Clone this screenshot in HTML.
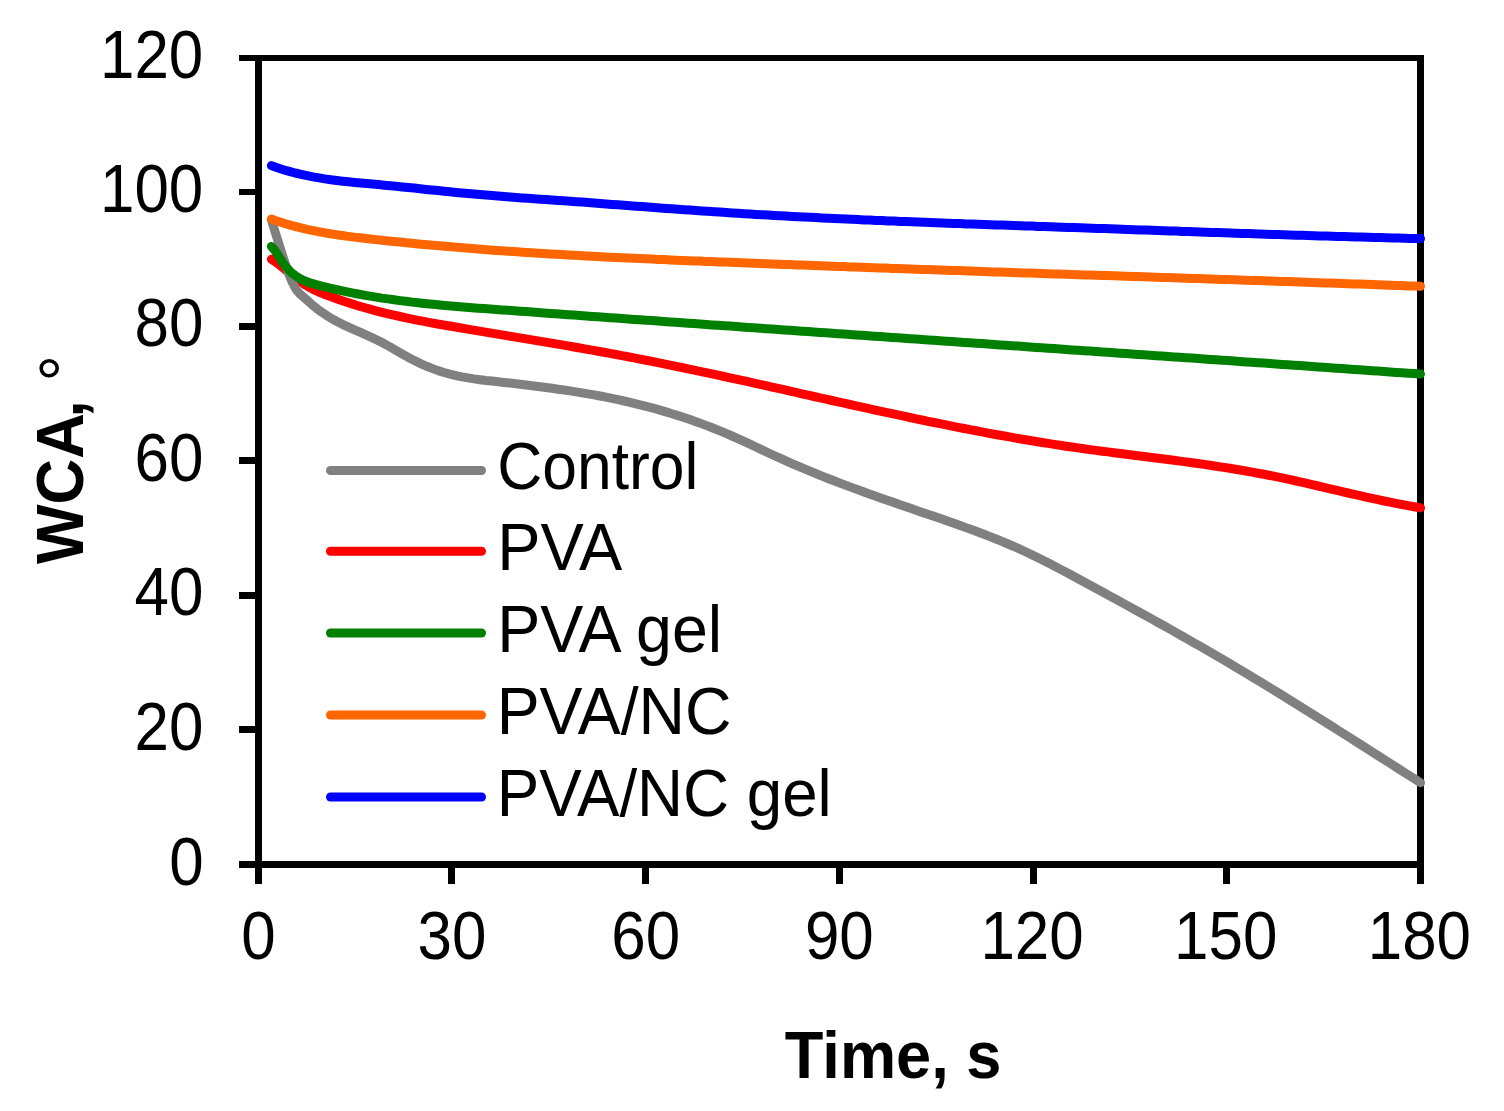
<!DOCTYPE html><html><head><meta charset="utf-8"><title>WCA vs Time</title><style>html,body{margin:0;padding:0;background:#fff;width:1504px;height:1111px;overflow:hidden}svg{display:block}text{font-family:"Liberation Sans",Arial,sans-serif;fill:#000}</style></head><body>
<svg width="1504" height="1111" viewBox="0 0 1504 1111">
<rect width="1504" height="1111" fill="#fff"/>
<rect x="239" y="55" width="1185" height="6" fill="#000"/>
<rect x="239" y="861" width="1185" height="7" fill="#000"/>
<rect x="255" y="55" width="7" height="829" fill="#000"/>
<rect x="1417" y="55" width="7" height="829" fill="#000"/>
<rect x="239" y="726" width="16" height="7" fill="#000"/>
<rect x="239" y="592" width="16" height="7" fill="#000"/>
<rect x="239" y="457" width="16" height="7" fill="#000"/>
<rect x="239" y="323" width="16" height="7" fill="#000"/>
<rect x="239" y="189" width="16" height="6" fill="#000"/>
<rect x="448" y="868" width="7" height="16" fill="#000"/>
<rect x="642" y="868" width="7" height="16" fill="#000"/>
<rect x="836" y="868" width="7" height="16" fill="#000"/>
<rect x="1030" y="868" width="7" height="16" fill="#000"/>
<rect x="1223" y="868" width="7" height="16" fill="#000"/>
<path d="M271.4,259.2 L274.1,261.0 L276.9,262.9 L279.6,265.0 L282.4,267.2 L285.1,269.4 L287.9,271.7 L290.6,273.9 L293.4,276.2 L296.1,278.4 L298.8,280.5 L301.6,282.4 L304.3,284.3 L307.1,286.0 L309.8,287.6 L312.6,289.1 L315.3,290.4 L318.0,291.6 L320.8,292.8 L323.5,293.9 L326.3,294.9 L329.0,296.0 L331.8,297.0 L334.5,298.0 L337.3,299.0 L340.0,300.0 L346.0,302.0 L352.0,303.9 L358.0,305.8 L364.0,307.5 L370.0,309.2 L376.0,310.8 L382.0,312.3 L388.0,313.8 L394.0,315.2 L400.0,316.5 L406.0,317.8 L412.0,319.1 L418.0,320.3 L424.0,321.4 L430.0,322.6 L436.0,323.7 L442.0,324.7 L448.0,325.8 L454.0,326.8 L460.0,327.8 L466.0,328.9 L472.0,329.9 L478.0,330.9 L484.0,331.9 L490.0,332.9 L496.0,333.9 L502.0,334.9 L508.0,335.9 L514.0,336.9 L520.0,337.9 L526.0,338.9 L532.0,339.9 L538.0,340.9 L544.0,341.9 L550.0,342.9 L556.0,343.9 L562.0,344.9 L568.0,345.9 L574.0,347.0 L580.0,348.0 L586.0,349.1 L592.0,350.1 L598.0,351.2 L604.0,352.3 L610.0,353.4 L616.0,354.5 L622.0,355.6 L628.0,356.7 L634.0,357.9 L640.0,359.1 L646.0,360.2 L652.0,361.4 L658.0,362.6 L664.0,363.8 L670.0,365.1 L676.0,366.3 L682.0,367.5 L688.0,368.8 L694.0,370.1 L700.0,371.3 L706.0,372.6 L712.0,373.9 L718.0,375.2 L724.0,376.5 L730.0,377.8 L736.0,379.1 L742.0,380.4 L748.0,381.7 L754.0,383.1 L760.0,384.4 L766.0,385.7 L772.0,387.1 L778.0,388.4 L784.0,389.7 L790.0,391.1 L796.0,392.4 L802.0,393.8 L808.0,395.1 L814.0,396.5 L820.0,397.8 L826.0,399.1 L832.0,400.5 L838.0,401.8 L844.0,403.1 L850.0,404.5 L856.0,405.8 L862.0,407.1 L868.0,408.4 L874.0,409.8 L880.0,411.1 L886.0,412.4 L892.0,413.7 L898.0,414.9 L904.0,416.2 L910.0,417.5 L916.0,418.8 L922.0,420.0 L928.0,421.3 L934.0,422.5 L940.0,423.7 L946.0,424.9 L952.0,426.1 L958.0,427.3 L964.0,428.5 L970.0,429.7 L976.0,430.8 L982.0,431.9 L988.0,433.1 L994.0,434.2 L1000.0,435.3 L1006.0,436.3 L1012.0,437.4 L1018.0,438.5 L1024.0,439.5 L1030.0,440.5 L1036.0,441.5 L1042.0,442.5 L1048.0,443.4 L1054.0,444.4 L1060.0,445.3 L1066.0,446.2 L1072.0,447.0 L1078.0,447.9 L1084.0,448.7 L1090.0,449.6 L1096.0,450.4 L1102.0,451.2 L1108.0,451.9 L1114.0,452.7 L1120.0,453.5 L1126.0,454.2 L1132.0,455.0 L1138.0,455.7 L1144.0,456.5 L1150.0,457.2 L1156.0,458.0 L1162.0,458.8 L1168.0,459.5 L1174.0,460.3 L1180.0,461.1 L1186.0,461.9 L1192.0,462.7 L1198.0,463.5 L1204.0,464.4 L1210.0,465.3 L1216.0,466.2 L1222.0,467.1 L1228.0,468.0 L1234.0,469.0 L1240.0,470.0 L1246.0,471.0 L1252.0,472.1 L1258.0,473.2 L1264.0,474.3 L1270.0,475.5 L1276.0,476.7 L1282.0,477.9 L1288.0,479.2 L1294.0,480.5 L1300.0,481.9 L1306.0,483.2 L1312.0,484.6 L1318.0,486.0 L1324.0,487.4 L1330.0,488.8 L1336.0,490.2 L1342.0,491.6 L1348.0,493.0 L1354.0,494.3 L1360.0,495.7 L1366.0,497.1 L1372.0,498.4 L1378.0,499.7 L1384.0,501.0 L1390.0,502.2 L1396.0,503.4 L1402.0,504.5 L1408.0,505.6 L1414.0,506.7 L1420.0,507.7 L1420.5,507.8" fill="none" stroke="#FF0000" stroke-width="9" stroke-linecap="round" stroke-linejoin="round"/>
<path d="M271.4,219.5 L274.0,228.4 L276.6,236.7 L279.2,244.8 L281.7,252.8 L284.3,260.8 L286.9,268.6 L289.5,275.7 L292.1,281.9 L294.7,287.1 L297.2,291.0 L299.8,293.8 L302.4,296.1 L305.0,298.4 L307.6,300.7 L310.2,303.0 L312.7,305.2 L315.3,307.3 L317.9,309.4 L320.5,311.3 L323.1,313.1 L325.7,314.8 L328.2,316.5 L330.8,318.1 L333.4,319.5 L336.0,321.0 L342.0,324.1 L348.0,326.9 L354.0,329.6 L360.0,332.2 L366.0,334.9 L372.0,337.6 L378.0,340.5 L384.0,343.6 L390.0,346.9 L396.0,350.4 L402.0,353.8 L408.0,357.2 L414.0,360.4 L420.0,363.3 L426.0,366.0 L432.0,368.4 L438.0,370.6 L444.0,372.5 L450.0,374.2 L456.0,375.6 L462.0,376.9 L468.0,377.9 L474.0,378.9 L480.0,379.7 L486.0,380.5 L492.0,381.1 L498.0,381.8 L504.0,382.5 L510.0,383.1 L516.0,383.8 L522.0,384.5 L528.0,385.2 L534.0,386.0 L540.0,386.7 L546.0,387.5 L552.0,388.3 L558.0,389.2 L564.0,390.0 L570.0,390.9 L576.0,391.9 L582.0,392.9 L588.0,393.9 L594.0,394.9 L600.0,396.0 L606.0,397.2 L612.0,398.4 L618.0,399.7 L624.0,401.0 L630.0,402.3 L636.0,403.8 L642.0,405.3 L648.0,406.8 L654.0,408.4 L660.0,410.1 L666.0,411.9 L672.0,413.7 L678.0,415.6 L684.0,417.5 L690.0,419.6 L696.0,421.7 L702.0,423.9 L708.0,426.1 L714.0,428.5 L720.0,430.9 L726.0,433.4 L732.0,436.0 L738.0,438.7 L744.0,441.4 L750.0,444.2 L756.0,447.0 L762.0,449.8 L768.0,452.7 L774.0,455.5 L780.0,458.2 L786.0,460.9 L792.0,463.6 L798.0,466.2 L804.0,468.7 L810.0,471.2 L816.0,473.7 L822.0,476.1 L828.0,478.5 L834.0,480.8 L840.0,483.1 L846.0,485.4 L852.0,487.6 L858.0,489.8 L864.0,492.0 L870.0,494.2 L876.0,496.3 L882.0,498.4 L888.0,500.5 L894.0,502.6 L900.0,504.7 L906.0,506.8 L912.0,508.8 L918.0,510.9 L924.0,512.9 L930.0,515.0 L936.0,517.1 L942.0,519.1 L948.0,521.2 L954.0,523.3 L960.0,525.4 L966.0,527.6 L972.0,529.8 L978.0,532.0 L984.0,534.3 L990.0,536.6 L996.0,539.0 L1002.0,541.4 L1008.0,544.0 L1014.0,546.5 L1020.0,549.2 L1026.0,552.0 L1032.0,554.8 L1038.0,557.7 L1044.0,560.7 L1050.0,563.8 L1056.0,566.9 L1062.0,570.1 L1068.0,573.3 L1074.0,576.5 L1080.0,579.8 L1086.0,583.0 L1092.0,586.3 L1098.0,589.5 L1104.0,592.8 L1110.0,596.1 L1116.0,599.3 L1122.0,602.6 L1128.0,605.9 L1134.0,609.2 L1140.0,612.5 L1146.0,615.8 L1152.0,619.1 L1158.0,622.5 L1164.0,625.8 L1170.0,629.2 L1176.0,632.6 L1182.0,636.0 L1188.0,639.4 L1194.0,642.8 L1200.0,646.2 L1206.0,649.7 L1212.0,653.2 L1218.0,656.7 L1224.0,660.2 L1230.0,663.7 L1236.0,667.3 L1242.0,670.9 L1248.0,674.4 L1254.0,678.1 L1260.0,681.7 L1266.0,685.3 L1272.0,689.0 L1278.0,692.7 L1284.0,696.4 L1290.0,700.1 L1296.0,703.8 L1302.0,707.6 L1308.0,711.3 L1314.0,715.1 L1320.0,718.8 L1326.0,722.6 L1332.0,726.4 L1338.0,730.2 L1344.0,734.0 L1350.0,737.8 L1356.0,741.6 L1362.0,745.4 L1368.0,749.3 L1374.0,753.1 L1380.0,756.9 L1386.0,760.7 L1392.0,764.6 L1398.0,768.4 L1404.0,772.2 L1410.0,776.0 L1416.0,779.8 L1420.5,782.7" fill="none" stroke="#808080" stroke-width="9" stroke-linecap="round" stroke-linejoin="round"/>
<path d="M271.4,246.4 L274.1,249.4 L276.9,253.3 L279.6,257.7 L282.4,262.0 L285.1,265.9 L287.9,269.1 L290.6,271.9 L293.4,274.2 L296.1,276.2 L298.8,277.9 L301.6,279.4 L304.3,280.7 L307.1,281.8 L309.8,282.8 L312.6,283.6 L315.3,284.4 L318.0,285.1 L320.8,285.8 L323.5,286.5 L326.3,287.2 L329.0,287.8 L331.8,288.5 L334.5,289.1 L337.3,289.7 L340.0,290.3 L346.0,291.6 L352.0,292.8 L358.0,294.0 L364.0,295.1 L370.0,296.1 L376.0,297.1 L382.0,298.1 L388.0,298.9 L394.0,299.8 L400.0,300.6 L406.0,301.3 L412.0,302.1 L418.0,302.8 L424.0,303.4 L430.0,304.0 L436.0,304.6 L442.0,305.2 L448.0,305.7 L454.0,306.2 L460.0,306.7 L466.0,307.2 L472.0,307.7 L478.0,308.2 L484.0,308.6 L490.0,309.0 L496.0,309.5 L502.0,309.9 L508.0,310.3 L514.0,310.8 L520.0,311.2 L526.0,311.6 L532.0,312.1 L538.0,312.5 L544.0,312.9 L550.0,313.4 L556.0,313.8 L562.0,314.2 L568.0,314.7 L574.0,315.1 L580.0,315.5 L586.0,315.9 L592.0,316.4 L598.0,316.8 L604.0,317.2 L610.0,317.7 L616.0,318.1 L622.0,318.5 L628.0,318.9 L634.0,319.4 L640.0,319.8 L646.0,320.2 L652.0,320.6 L658.0,321.1 L664.0,321.5 L670.0,321.9 L676.0,322.3 L682.0,322.8 L688.0,323.2 L694.0,323.6 L700.0,324.0 L706.0,324.5 L712.0,324.9 L718.0,325.3 L724.0,325.7 L730.0,326.1 L736.0,326.6 L742.0,327.0 L748.0,327.4 L754.0,327.8 L760.0,328.2 L766.0,328.7 L772.0,329.1 L778.0,329.5 L784.0,329.9 L790.0,330.3 L796.0,330.8 L802.0,331.2 L808.0,331.6 L814.0,332.0 L820.0,332.4 L826.0,332.8 L832.0,333.3 L838.0,333.7 L844.0,334.1 L850.0,334.5 L856.0,334.9 L862.0,335.3 L868.0,335.8 L874.0,336.2 L880.0,336.6 L886.0,337.0 L892.0,337.4 L898.0,337.8 L904.0,338.3 L910.0,338.7 L916.0,339.1 L922.0,339.5 L928.0,339.9 L934.0,340.3 L940.0,340.7 L946.0,341.2 L952.0,341.6 L958.0,342.0 L964.0,342.4 L970.0,342.8 L976.0,343.2 L982.0,343.6 L988.0,344.1 L994.0,344.5 L1000.0,344.9 L1006.0,345.3 L1012.0,345.7 L1018.0,346.1 L1024.0,346.5 L1030.0,347.0 L1036.0,347.4 L1042.0,347.8 L1048.0,348.2 L1054.0,348.6 L1060.0,349.0 L1066.0,349.4 L1072.0,349.9 L1078.0,350.3 L1084.0,350.7 L1090.0,351.1 L1096.0,351.5 L1102.0,351.9 L1108.0,352.3 L1114.0,352.8 L1120.0,353.2 L1126.0,353.6 L1132.0,354.0 L1138.0,354.4 L1144.0,354.8 L1150.0,355.2 L1156.0,355.7 L1162.0,356.1 L1168.0,356.5 L1174.0,356.9 L1180.0,357.3 L1186.0,357.7 L1192.0,358.1 L1198.0,358.6 L1204.0,359.0 L1210.0,359.4 L1216.0,359.8 L1222.0,360.2 L1228.0,360.6 L1234.0,361.1 L1240.0,361.5 L1246.0,361.9 L1252.0,362.3 L1258.0,362.7 L1264.0,363.1 L1270.0,363.6 L1276.0,364.0 L1282.0,364.4 L1288.0,364.8 L1294.0,365.2 L1300.0,365.6 L1306.0,366.1 L1312.0,366.5 L1318.0,366.9 L1324.0,367.3 L1330.0,367.7 L1336.0,368.2 L1342.0,368.6 L1348.0,369.0 L1354.0,369.4 L1360.0,369.8 L1366.0,370.3 L1372.0,370.7 L1378.0,371.1 L1384.0,371.5 L1390.0,372.0 L1396.0,372.4 L1402.0,372.8 L1408.0,373.2 L1414.0,373.6 L1420.0,374.1 L1420.5,374.1" fill="none" stroke="#008000" stroke-width="9" stroke-linecap="round" stroke-linejoin="round"/>
<path d="M271.4,219.1 L275.3,220.5 L279.3,221.8 L283.2,223.0 L287.2,224.2 L291.1,225.4 L295.1,226.4 L299.0,227.4 L303.0,228.4 L306.9,229.3 L310.8,230.1 L314.8,230.9 L318.7,231.7 L322.7,232.4 L326.6,233.1 L330.6,233.8 L334.5,234.4 L338.4,235.0 L342.4,235.5 L346.3,236.1 L350.3,236.6 L354.2,237.1 L358.2,237.6 L362.1,238.0 L366.1,238.5 L370.0,238.9 L376.0,239.6 L382.0,240.3 L388.0,240.9 L394.0,241.5 L400.0,242.1 L406.0,242.7 L412.0,243.3 L418.0,243.9 L424.0,244.5 L430.0,245.0 L436.0,245.5 L442.0,246.1 L448.0,246.6 L454.0,247.1 L460.0,247.6 L466.0,248.1 L472.0,248.6 L478.0,249.0 L484.0,249.5 L490.0,249.9 L496.0,250.4 L502.0,250.8 L508.0,251.2 L514.0,251.6 L520.0,252.0 L526.0,252.4 L532.0,252.8 L538.0,253.2 L544.0,253.5 L550.0,253.9 L556.0,254.3 L562.0,254.6 L568.0,254.9 L574.0,255.3 L580.0,255.6 L586.0,255.9 L592.0,256.2 L598.0,256.6 L604.0,256.9 L610.0,257.2 L616.0,257.5 L622.0,257.7 L628.0,258.0 L634.0,258.3 L640.0,258.6 L646.0,258.8 L652.0,259.1 L658.0,259.4 L664.0,259.6 L670.0,259.9 L676.0,260.2 L682.0,260.4 L688.0,260.7 L694.0,260.9 L700.0,261.1 L706.0,261.4 L712.0,261.6 L718.0,261.9 L724.0,262.1 L730.0,262.3 L736.0,262.6 L742.0,262.8 L748.0,263.0 L754.0,263.3 L760.0,263.5 L766.0,263.7 L772.0,264.0 L778.0,264.2 L784.0,264.4 L790.0,264.6 L796.0,264.9 L802.0,265.1 L808.0,265.3 L814.0,265.5 L820.0,265.8 L826.0,266.0 L832.0,266.2 L838.0,266.4 L844.0,266.6 L850.0,266.9 L856.0,267.1 L862.0,267.3 L868.0,267.5 L874.0,267.7 L880.0,267.9 L886.0,268.1 L892.0,268.4 L898.0,268.6 L904.0,268.8 L910.0,269.0 L916.0,269.2 L922.0,269.4 L928.0,269.6 L934.0,269.8 L940.0,270.0 L946.0,270.2 L952.0,270.4 L958.0,270.6 L964.0,270.8 L970.0,271.0 L976.0,271.2 L982.0,271.5 L988.0,271.7 L994.0,271.9 L1000.0,272.1 L1006.0,272.3 L1012.0,272.5 L1018.0,272.7 L1024.0,272.9 L1030.0,273.1 L1036.0,273.3 L1042.0,273.5 L1048.0,273.7 L1054.0,273.9 L1060.0,274.1 L1066.0,274.3 L1072.0,274.5 L1078.0,274.7 L1084.0,274.9 L1090.0,275.1 L1096.0,275.3 L1102.0,275.4 L1108.0,275.6 L1114.0,275.8 L1120.0,276.0 L1126.0,276.2 L1132.0,276.4 L1138.0,276.6 L1144.0,276.8 L1150.0,277.0 L1156.0,277.2 L1162.0,277.4 L1168.0,277.6 L1174.0,277.8 L1180.0,278.0 L1186.0,278.2 L1192.0,278.4 L1198.0,278.6 L1204.0,278.8 L1210.0,279.0 L1216.0,279.2 L1222.0,279.4 L1228.0,279.6 L1234.0,279.8 L1240.0,280.0 L1246.0,280.2 L1252.0,280.4 L1258.0,280.6 L1264.0,280.8 L1270.0,281.0 L1276.0,281.2 L1282.0,281.4 L1288.0,281.6 L1294.0,281.8 L1300.0,282.1 L1306.0,282.3 L1312.0,282.5 L1318.0,282.7 L1324.0,282.9 L1330.0,283.1 L1336.0,283.3 L1342.0,283.5 L1348.0,283.7 L1354.0,283.9 L1360.0,284.1 L1366.0,284.3 L1372.0,284.6 L1378.0,284.8 L1384.0,285.0 L1390.0,285.2 L1396.0,285.4 L1402.0,285.6 L1408.0,285.9 L1414.0,286.1 L1420.0,286.3 L1420.5,286.3" fill="none" stroke="#FF6600" stroke-width="9" stroke-linecap="round" stroke-linejoin="round"/>
<path d="M271.4,165.6 L277.3,167.8 L283.3,169.7 L289.2,171.4 L295.2,173.0 L301.1,174.4 L307.1,175.7 L313.0,176.9 L319.0,177.9 L324.9,178.9 L330.8,179.7 L336.8,180.5 L342.7,181.2 L348.7,181.8 L354.6,182.4 L360.6,183.0 L366.5,183.5 L372.4,184.1 L378.4,184.6 L384.3,185.2 L390.3,185.8 L396.2,186.3 L402.2,186.9 L408.1,187.5 L414.1,188.1 L420.0,188.8 L426.0,189.4 L432.0,190.0 L438.0,190.6 L444.0,191.2 L450.0,191.8 L456.0,192.4 L462.0,192.9 L468.0,193.5 L474.0,194.0 L480.0,194.6 L486.0,195.1 L492.0,195.6 L498.0,196.0 L504.0,196.5 L510.0,197.0 L516.0,197.4 L522.0,197.9 L528.0,198.3 L534.0,198.7 L540.0,199.2 L546.0,199.6 L552.0,200.0 L558.0,200.4 L564.0,200.8 L570.0,201.3 L576.0,201.7 L582.0,202.1 L588.0,202.6 L594.0,203.0 L600.0,203.5 L606.0,203.9 L612.0,204.4 L618.0,204.8 L624.0,205.3 L630.0,205.7 L636.0,206.2 L642.0,206.6 L648.0,207.0 L654.0,207.5 L660.0,207.9 L666.0,208.4 L672.0,208.8 L678.0,209.2 L684.0,209.7 L690.0,210.1 L696.0,210.5 L702.0,210.9 L708.0,211.3 L714.0,211.7 L720.0,212.1 L726.0,212.5 L732.0,212.9 L738.0,213.3 L744.0,213.7 L750.0,214.0 L756.0,214.4 L762.0,214.7 L768.0,215.1 L774.0,215.4 L780.0,215.7 L786.0,216.1 L792.0,216.4 L798.0,216.7 L804.0,217.0 L810.0,217.3 L816.0,217.6 L822.0,217.9 L828.0,218.2 L834.0,218.5 L840.0,218.8 L846.0,219.0 L852.0,219.3 L858.0,219.6 L864.0,219.9 L870.0,220.1 L876.0,220.4 L882.0,220.6 L888.0,220.9 L894.0,221.1 L900.0,221.4 L906.0,221.6 L912.0,221.8 L918.0,222.1 L924.0,222.3 L930.0,222.5 L936.0,222.8 L942.0,223.0 L948.0,223.2 L954.0,223.4 L960.0,223.6 L966.0,223.9 L972.0,224.1 L978.0,224.3 L984.0,224.5 L990.0,224.7 L996.0,224.9 L1002.0,225.1 L1008.0,225.3 L1014.0,225.5 L1020.0,225.7 L1026.0,225.9 L1032.0,226.1 L1038.0,226.4 L1044.0,226.6 L1050.0,226.8 L1056.0,227.0 L1062.0,227.2 L1068.0,227.4 L1074.0,227.6 L1080.0,227.8 L1086.0,228.0 L1092.0,228.2 L1098.0,228.4 L1104.0,228.6 L1110.0,228.8 L1116.0,229.0 L1122.0,229.3 L1128.0,229.5 L1134.0,229.7 L1140.0,229.9 L1146.0,230.1 L1152.0,230.3 L1158.0,230.5 L1164.0,230.7 L1170.0,230.9 L1176.0,231.1 L1182.0,231.4 L1188.0,231.6 L1194.0,231.8 L1200.0,232.0 L1206.0,232.2 L1212.0,232.4 L1218.0,232.6 L1224.0,232.8 L1230.0,233.0 L1236.0,233.2 L1242.0,233.4 L1248.0,233.6 L1254.0,233.8 L1260.0,234.0 L1266.0,234.2 L1272.0,234.4 L1278.0,234.6 L1284.0,234.8 L1290.0,235.0 L1296.0,235.2 L1302.0,235.3 L1308.0,235.5 L1314.0,235.7 L1320.0,235.9 L1326.0,236.1 L1332.0,236.3 L1338.0,236.4 L1344.0,236.6 L1350.0,236.8 L1356.0,236.9 L1362.0,237.1 L1368.0,237.3 L1374.0,237.4 L1380.0,237.6 L1386.0,237.8 L1392.0,237.9 L1398.0,238.1 L1404.0,238.2 L1410.0,238.4 L1416.0,238.5 L1420.5,238.6" fill="none" stroke="#0000FF" stroke-width="9" stroke-linecap="round" stroke-linejoin="round"/>
<text transform="translate(169.15,884.50) scale(0.9100,1)" font-size="68">0</text>
<text transform="translate(134.57,750.00) scale(0.9100,1)" font-size="68">20</text>
<text transform="translate(134.57,615.30) scale(0.9100,1)" font-size="68">40</text>
<text transform="translate(134.57,481.00) scale(0.9100,1)" font-size="68">60</text>
<text transform="translate(134.57,346.40) scale(0.9100,1)" font-size="68">80</text>
<text transform="translate(99.99,212.00) scale(0.9100,1)" font-size="68">100</text>
<text transform="translate(99.99,78.00) scale(0.9100,1)" font-size="68">120</text>
<text transform="translate(241.21,959.00) scale(0.9100,1)" font-size="68">0</text>
<text transform="translate(417.59,959.00) scale(0.9100,1)" font-size="68">30</text>
<text transform="translate(611.26,959.00) scale(0.9100,1)" font-size="68">60</text>
<text transform="translate(804.92,959.00) scale(0.9100,1)" font-size="68">90</text>
<text transform="translate(980.39,959.00) scale(0.9100,1)" font-size="68">120</text>
<text transform="translate(1174.06,959.00) scale(0.9100,1)" font-size="68">150</text>
<text transform="translate(1367.73,959.00) scale(0.9100,1)" font-size="68">180</text>
<text transform="translate(784.86,1078.00) scale(0.9434,1)" font-size="67" font-weight="bold">Time, s</text>
<text transform="translate(83,564) rotate(-90) scale(0.9430,1)" font-size="67" font-weight="bold">WCA<tspan x="155.2">, </tspan><tspan x="193.5" y="6" font-size="70" font-weight="normal">°</tspan></text>
<line x1="330.5" y1="470.5" x2="481.5" y2="470.5" stroke="#808080" stroke-width="9" stroke-linecap="round"/>
<text transform="translate(497.20,489.00) scale(0.9317,1)" font-size="67">Control</text>
<line x1="330.5" y1="551.2" x2="481.5" y2="551.2" stroke="#FF0000" stroke-width="9" stroke-linecap="round"/>
<text transform="translate(497.19,570.00) scale(0.9683,1)" font-size="67">PVA</text>
<line x1="330.5" y1="633.0" x2="481.5" y2="633.0" stroke="#008000" stroke-width="9" stroke-linecap="round"/>
<text transform="translate(497.22,652.00) scale(0.9641,1)" font-size="67">PVA gel</text>
<line x1="330.5" y1="715.0" x2="481.5" y2="715.0" stroke="#FF6600" stroke-width="9" stroke-linecap="round"/>
<text transform="translate(496.63,734.00) scale(0.9609,1)" font-size="67">PVA/NC</text>
<line x1="330.5" y1="797.0" x2="481.5" y2="797.0" stroke="#0000FF" stroke-width="9" stroke-linecap="round"/>
<text transform="translate(496.70,816.00) scale(0.9506,1)" font-size="67">PVA/NC gel</text>
</svg></body></html>
